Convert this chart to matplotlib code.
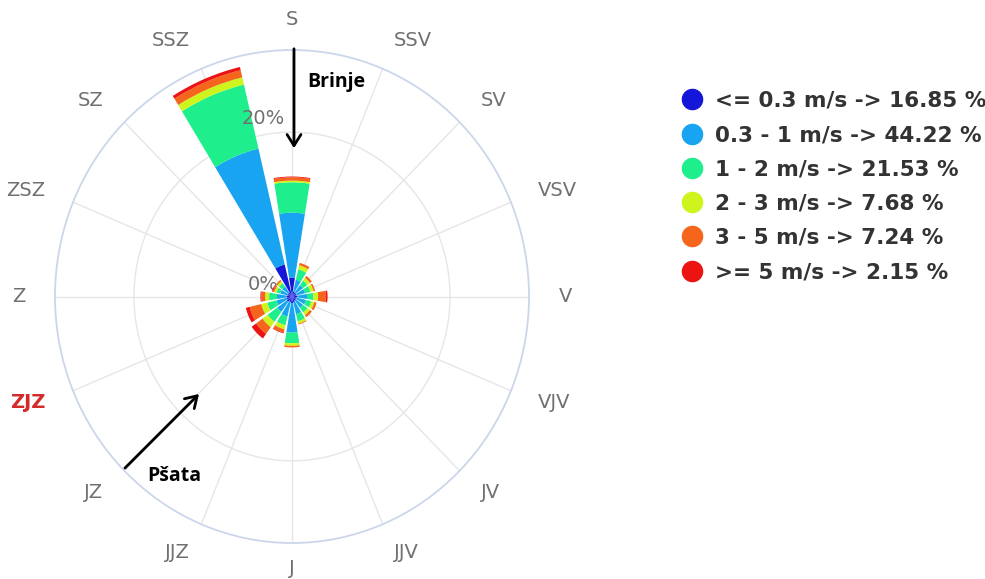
import numpy as np
import matplotlib
matplotlib.use("Agg")
import matplotlib.pyplot as plt
from matplotlib.lines import Line2D
from matplotlib.patches import FancyArrowPatch

W, H = 985, 579

directions = ["S", "SSV", "SV", "VSV", "V", "VJV", "JV", "JJV",
              "J", "JJZ", "JZ", "ZJZ", "Z", "ZSZ", "SZ", "SSZ"]

speed_labels = ["<= 0.3 m/s -> 16.85 %", "0.3 - 1 m/s -> 44.22 %",
                "1 - 2 m/s -> 21.53 %", "2 - 3 m/s -> 7.68 %",
                "3 - 5 m/s -> 7.24 %", ">= 5 m/s -> 2.15 %"]

# percent per direction (same order as directions)
calm   = [2.3, 0.6, 0.6, 0.6, 0.7, 0.6, 0.6, 0.7, 0.8, 0.7, 0.8, 0.7, 0.7, 0.6, 0.6, 4.0]
s03_1  = [7.9, 1.5, 1.1, 1.1, 1.2, 1.2, 1.1, 1.5, 3.6, 1.8, 1.5, 1.3, 1.2, 0.9, 0.9, 14.5]
s1_2   = [3.7, 1.3, 0.7, 0.7, 0.8, 0.7, 0.7, 0.9, 1.3, 1.1, 1.5, 1.2, 1.0, 0.5, 0.5, 8.0]
s2_3   = [0.2, 0.5, 0.4, 0.4, 0.6, 0.4, 0.4, 0.3, 0.3, 0.5, 0.8, 0.8, 0.5, 0.3, 0.3, 0.9]
s3_5   = [0.4, 0.3, 0.3, 0.2, 1.0, 0.3, 0.3, 0.1, 0.2, 0.4, 1.0, 1.5, 0.5, 0.2, 0.2, 0.9]
s5     = [0.1, 0.0, 0.0, 0.0, 0.2, 0.0, 0.0, 0.0, 0.0, 0.1, 0.7, 0.5, 0.1, 0.1, 0.0, 0.4]

series = [calm, s03_1, s1_2, s2_3, s3_5, s5]
colors = ["#1416d8", "#19a4f2", "#1eef8c", "#cdf41c", "#f5651c", "#ec1313"]

radial_ticks = [0, 20]
radial_max = 30

def fxy(x, y):
    return (x / W, 1 - y / H)

fig = plt.figure(figsize=(W / 100, H / 100), dpi=100)
fig.patch.set_facecolor("white")

l, r_, t, b = 55, 529, 50, 543
ax = fig.add_axes([l / W, 1 - b / H, (r_ - l) / W, (b - t) / H], projection="polar")
ax.set_aspect("auto")
ax.set_theta_zero_location("N")
ax.set_theta_direction(-1)
ax.set_ylim(0, radial_max)
ax.set_axisbelow(True)

n = len(directions)
theta = np.arange(n) * 2 * np.pi / n
width = 0.82 * 2 * np.pi / n
bottom = np.zeros(n)
for vals, c in zip(series, colors):
    v = np.array(vals)
    ax.bar(theta, v, width=width, bottom=bottom, color=c, linewidth=0, zorder=3)
    bottom += v

ax.set_xticks(theta)
ax.set_xticklabels([])
ax.set_yticks([20])
ax.set_yticklabels([])
ax.grid(True, color="#e6e6e6", linewidth=1.0)
ax.spines["polar"].set_color("#ccd6eb")
ax.spines["polar"].set_linewidth(1.3)
ax.tick_params(length=0)

for th, name in zip(theta, directions):
    s = np.sin(th)
    if abs(s) < 0.01:
        ha = "center"
    elif s > 0:
        ha = "left"
    else:
        ha = "right"
    style = dict(fontsize=14, color="#707070")
    if name == "ZJZ":
        style = dict(fontsize=14, color="#d42a2a", fontweight="bold")
    if name == "J":
        # bottom label, kept just inside the lower edge of the figure
        fig.text(292 / W, 1 / H, name, ha="center", va="bottom", **style)
        continue
    ax.text(th, radial_max * 1.125, name, ha=ha, va="center", clip_on=False, **style)

ax.annotate("20%", xy=(0, radial_ticks[1]), xytext=(-21, 9.5), textcoords="offset points",
            ha="center", va="center", fontsize=14, color="#707070", zorder=5)
ax.annotate("0%", xy=(0, radial_ticks[0]), xytext=(-21, 8.6), textcoords="offset points",
            ha="center", va="center", fontsize=14, color="#707070", zorder=2)

handles = [Line2D([], [], marker="o", linestyle="", markersize=14.5,
                  markerfacecolor=c, markeredgecolor=c) for c in colors]
leg = fig.legend(handles, speed_labels, loc="upper left",
                 bbox_to_anchor=fxy(679, 91), frameon=False,
                 prop={"size": 15.5, "weight": "bold"}, labelspacing=0.66,
                 handletextpad=0.45, handlelength=1.2, borderaxespad=0, borderpad=0)
for txt in leg.get_texts():
    txt.set_color("#333333")

ann_font = {"family": "Open Sans", "weight": "bold", "size": 14}
fig.text(*fxy(336, 82), "Brinje", ha="center", va="center", color="black", fontdict=ann_font)
fig.text(*fxy(174, 476), "Pšata", ha="center", va="center", color="black", fontdict=ann_font)

for (x0, y0, x1, y1) in [(294, 46, 294, 151), (123, 470, 201, 392)]:
    arr = FancyArrowPatch(fxy(x0, y0), fxy(x1, y1), transform=fig.transFigure,
                          arrowstyle="->,head_length=8,head_width=5",
                          color="black", linewidth=2.0, zorder=10)
    fig.add_artist(arr)

fig.savefig("out.png", dpi=100, facecolor="white")
